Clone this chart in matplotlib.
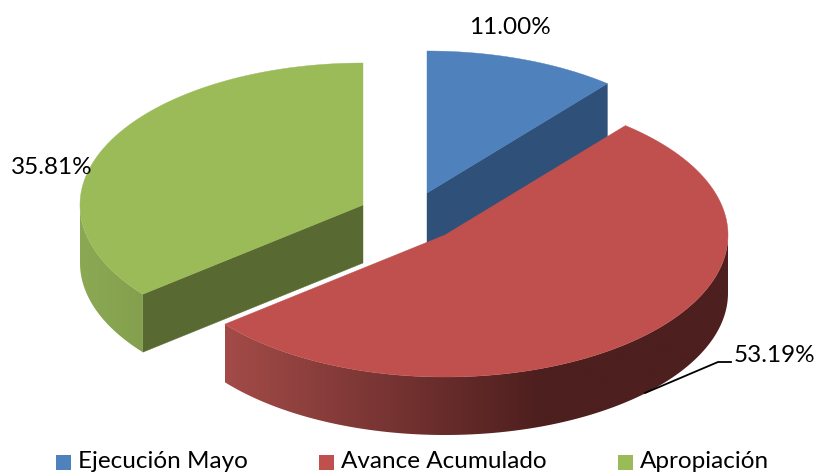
import numpy as np
import matplotlib
matplotlib.use("Agg")
import matplotlib.pyplot as plt
from matplotlib.colors import to_rgb
from matplotlib.patches import Polygon, Rectangle

# -----------------------------
# Data
# -----------------------------
categories = ["Ejecución Mayo", "Avance Acumulado", "Apropiación"]
values = [11.00, 53.19, 35.81]
labels = ["11.00%", "53.19%", "35.81%"]
colors = ["#4f81bd", "#c0504d", "#9bbb59"]
face_colors = ["#2f5079", "#73302e", "#586a31"]

# -----------------------------
# Pie geometry (pixels)
# -----------------------------
rx = 283
ry = 142
depth = 58
centers = [(427, 193), (445, 235), (363, 205)]

# wall shading by x: (left x, left colour, right x, right colour)
side_shades = [
    (427, "#2f5079", 608, "#2f5079"),
    (225, "#a34b48", 540, "#4d1f1e"),
    (80, "#8ba954", 143, "#84a04e"),
]


def rim(cx, cy, a):
    # angle clockwise from the top of the pie, degrees
    t = np.radians(a)
    return cx + rx * np.sin(t), cy - ry * np.cos(t)


def shade_strip(shade, x0, x1):
    xs = np.linspace(x0, x1, 256)
    f = np.clip((xs - shade[0]) / (shade[2] - shade[0]), 0, 1)[:, None]
    c0 = np.array(to_rgb(shade[1]))
    c1 = np.array(to_rgb(shade[3]))
    return ((1 - f) * c0 + f * c1)[None, :, :]


fig = plt.figure(figsize=(8.16, 4.76), dpi=100)
ax = fig.add_axes([0, 0, 1, 1])
plt.rcParams["font.family"] = ["Lato", "DejaVu Sans"]

ends = np.cumsum(values) * 3.6
starts = np.concatenate([[0], ends[:-1]])

for z, i in enumerate([0, 2, 1]):
    cx, cy = centers[i]
    a0, a1 = starts[i], ends[i]
    base = z * 10 + 1

    # radial faces that look towards the viewer
    face_a = {0: a1, 2: a0}.get(i)
    if face_a is not None:
        x, y = rim(cx, cy, face_a)
        ax.add_patch(Polygon([(cx, cy), (x, y), (x, y + depth), (cx, cy + depth)],
                             fc=face_colors[i], ec=face_colors[i], lw=0.3, zorder=base))

    # outer wall, only the front half of the rim
    w0, w1 = max(a0, 90), min(a1, 270)
    if w1 > w0:
        aa = np.linspace(w0, w1, 300)
        top = np.array([rim(cx, cy, a) for a in aa])
        bottom = top[::-1] + [0, depth]
        wall = Polygon(np.vstack([top, bottom]), fc="none", ec="none", transform=ax.transData)
        ax.add_patch(wall)
        x0, x1 = top[:, 0].min(), top[:, 0].max()
        y0, y1 = top[:, 1].min(), top[:, 1].max() + depth
        im = ax.imshow(shade_strip(side_shades[i], x0, x1), extent=(x0, x1, y1, y0),
                       aspect="auto", zorder=base + 1, interpolation="bilinear")
        im.set_clip_path(wall)

    # top
    aa = np.linspace(a0, a1, 200)
    pts = [(cx, cy)] + [rim(cx, cy, a) for a in aa]
    ax.add_patch(Polygon(pts, fc=colors[i], ec=colors[i], lw=0.3, zorder=base + 2))

ax.set_xlim(0, 816)
ax.set_ylim(476, 0)
ax.axis("off")

# -----------------------------
# Labels
# -----------------------------
ax.plot([645, 718, 731], [393, 362, 362], color="black", lw=1.3, zorder=50)
ax.text(510, 27, labels[0], fontsize=17.5, ha="center", va="center", color="black", zorder=60)
ax.text(774, 355, labels[1], fontsize=17.5, ha="center", va="center", color="black", zorder=60)
ax.text(52, 168, labels[2], fontsize=17.5, ha="center", va="center", color="black", zorder=60)

# -----------------------------
# Legend
# -----------------------------
legend_x = [56, 319, 618]
for name, c, x in zip(categories, colors, legend_x):
    ax.add_patch(Rectangle((x, 455), 15, 15, fc=c, ec="none", zorder=60))
    ax.text(x + 22, 462, name, fontsize=17.5, ha="left", va="center", color="black", zorder=60)

fig.savefig("out.png", dpi=100)
